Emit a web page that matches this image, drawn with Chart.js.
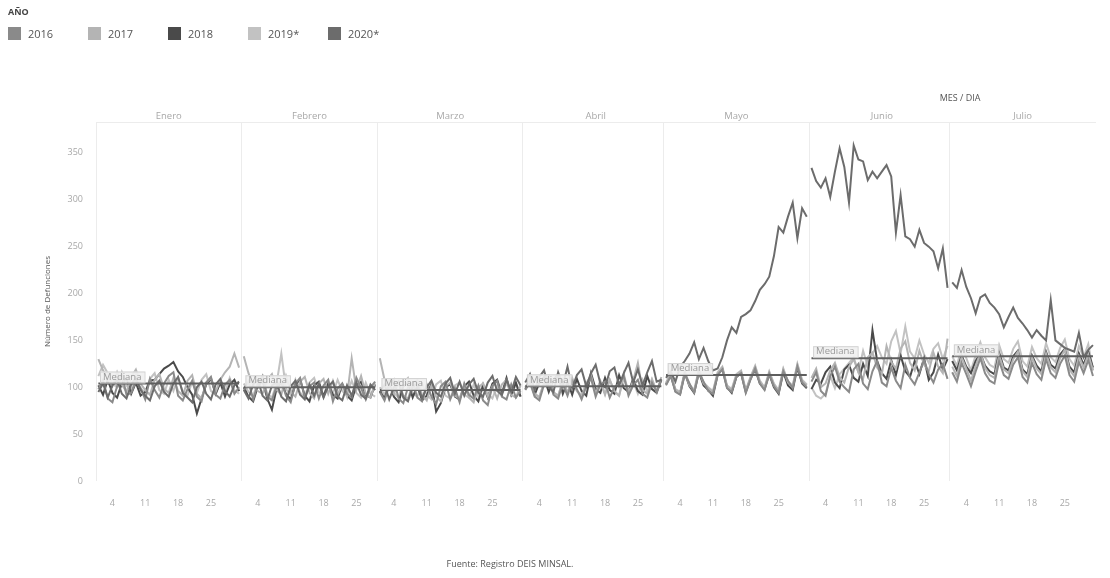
<!DOCTYPE html>
<html>
<head>
<meta charset="utf-8">
<script src="https://cdn.jsdelivr.net/npm/chart.js@4.4.1/dist/chart.umd.min.js"></script>
<style>
html,body{margin:0;padding:0;background:#fff;}
#wrap{position:relative;width:1110px;height:578px;overflow:hidden;font-family:'Open Sans',sans-serif;}
#chart{position:absolute;left:0;top:0;}
#legend{position:absolute;left:8px;top:6px;}
#legend .ttl{font-size:9px;font-weight:bold;color:#444;line-height:12px;height:20px;}
#legend .row{display:flex;}
#legend .item{display:flex;align-items:center;width:80px;}
#legend .box{width:13px;height:13px;margin-right:7px;}
#legend .lbl{font-size:11px;color:#555;}
.note{position:absolute;font-size:9px;color:#555;transform:translateX(-50%);white-space:nowrap;}
</style>
</head>
<body>
<div id="wrap">
<canvas id="chart" width="1110" height="578"></canvas>
<div id="legend"></div>
<div class="note" id="axisNote" style="left:960px;top:91px;">MES / DIA</div>
<div class="note" id="source" style="left:510px;top:557px;">Fuente: Registro DEIS MINSAL.</div>
</div>
<script>
// ---- data ----
const monthNames = ['Enero','Febrero','Marzo','Abril','Mayo','Junio','Julio'];
const monthDays = [31,29,31,30,31,30,31];
const tickDays = [4,11,18,25];
const years = ['2016','2017','2018','2019*','2020*'];
const colors = ['#8a8a8a','#b4b4b4','#4a4a4a','#c2c2c2','#6c6c6c'];
const medians = [104,100,97,101,113,131,133];

const d2016 = [
 98,108,88,84,101,114,92,94,106,99,87,109,97,89,104,112,116,91,86,98,107,90,85,105,111,92,88,103,108,93,100,
 96,106,87,103,112,90,86,101,107,91,84,104,110,89,101,105,88,102,108,85,99,104,93,89,110,99,87,100,106,
 95,86,102,108,88,83,100,105,89,85,103,90,82,101,106,87,99,84,104,92,88,102,86,81,101,107,90,87,103,89,96,
 97,105,90,86,103,109,92,88,104,91,107,98,87,101,110,90,103,106,89,100,104,112,91,102,108,93,89,105,95,109,
 102,112,95,92,114,104,94,116,106,96,93,113,119,99,95,111,115,94,108,120,104,97,114,101,94,117,107,99,122,105,100,
 106,116,96,91,112,122,106,100,95,119,125,104,98,117,128,105,101,121,107,99,124,110,103,116,129,114,105,119,125,109,
 116,106,126,114,101,117,131,115,107,104,128,113,109,124,132,111,105,126,114,108,130,115,110,125,134,113,106,127,115,129,112
];
const d2017 = [
 130,118,110,101,116,103,95,111,119,104,97,92,108,114,98,94,110,96,91,107,113,93,88,105,110,95,108,116,122,136,121,
 133,115,102,96,93,108,114,97,92,112,95,90,106,111,94,88,104,109,93,107,92,103,90,131,97,112,93,89,104,
 131,108,100,93,105,91,88,103,108,92,86,102,90,85,101,105,91,88,103,89,84,100,104,90,101,88,103,108,92,89,102,
 100,108,93,89,105,112,95,91,107,94,110,96,90,103,113,93,106,92,108,96,91,114,94,107,126,97,93,108,95,111,
 104,114,97,94,116,102,96,118,104,99,95,115,121,101,97,113,117,96,110,122,106,99,116,103,96,119,105,101,124,107,102,
 110,120,100,104,118,126,111,105,122,130,116,109,132,137,121,114,144,127,120,141,149,126,118,139,124,117,137,122,115,152,
 122,112,132,120,107,123,137,121,113,110,134,119,115,130,138,117,111,132,120,114,136,121,116,131,140,119,112,133,121,135,118
];
const d2018 = [
 102,92,108,94,89,104,110,93,105,91,95,107,108,114,120,123,127,117,111,100,92,72,88,103,109,93,105,90,103,108,96,
 100,90,85,101,107,88,76,99,105,93,87,103,108,91,85,102,106,90,104,92,88,103,91,86,102,106,92,89,103,
 96,88,103,90,84,101,105,89,102,86,91,104,74,83,100,103,90,87,101,106,91,85,102,89,104,108,93,110,92,105,90,
 98,107,92,105,111,95,108,114,93,106,92,109,96,91,115,98,94,110,97,93,113,99,95,109,96,92,112,98,94,108,
 103,113,96,93,115,101,94,116,102,97,91,113,120,100,94,111,115,95,109,119,104,98,114,100,93,116,102,97,121,104,99,
 98,108,104,116,122,105,99,119,124,110,106,125,112,161,128,115,109,129,113,134,117,111,128,114,131,108,116,135,119,130,
 128,118,134,122,115,128,136,123,117,114,137,121,118,133,139,119,114,134,123,117,138,124,120,135,141,122,116,136,124,138,121
];
const d2019 = [
 112,124,115,104,100,116,102,96,113,99,94,109,115,97,93,108,96,111,95,91,106,94,108,114,96,92,107,95,110,97,93,
 104,95,91,105,111,93,89,104,136,98,92,108,94,90,105,110,95,91,106,93,108,96,92,107,94,89,105,93,90,
 100,92,107,94,89,105,110,93,90,104,92,87,103,107,91,88,102,105,92,89,103,90,104,93,88,102,91,105,92,103,90,
 99,107,93,90,105,110,94,91,106,93,108,96,92,105,111,94,107,93,108,95,91,110,96,106,93,108,95,109,96,107,
 105,115,98,95,117,103,97,119,105,100,96,116,122,102,98,114,118,97,111,123,107,100,117,104,97,120,106,102,125,108,103,
 100,91,88,93,112,99,114,120,126,132,116,139,122,136,144,132,125,149,160,136,165,138,131,150,135,126,141,147,130,144,
 133,123,143,131,118,134,148,132,124,121,145,130,126,141,149,128,122,143,131,125,147,132,127,142,151,130,123,144,132,146,118
];
const d2020 = [
 95,104,89,102,108,93,88,103,110,97,91,86,101,107,95,90,104,111,94,89,84,100,106,93,87,103,109,96,90,102,106,
 97,88,103,108,91,86,102,105,90,85,101,107,92,87,103,91,104,89,101,106,90,86,102,91,105,92,88,103,97,
 94,103,87,100,106,89,85,101,104,88,100,107,94,90,104,110,93,106,91,103,109,94,90,105,112,96,92,108,95,111,102,
 105,114,97,111,118,100,95,116,102,122,99,113,119,101,115,124,104,100,117,121,102,115,126,105,119,102,116,128,106,108,
 110,117,106,122,128,136,148,130,142,128,118,120,132,150,164,158,175,178,182,192,204,210,218,240,271,265,282,297,259,291,282,
 334,320,313,323,303,330,355,335,297,358,343,341,321,330,323,330,337,325,265,305,261,258,250,268,254,250,245,227,248,206,
 212,206,225,207,195,179,196,199,190,185,178,164,175,185,174,168,161,153,161,155,150,193,150,146,142,140,138,158,132,140,145
];
const series = [d2016, d2017, d2018, d2019, d2020];

// ---- derived helpers ----
const dayLabels = [], monthOf = [], monthStart = [];
monthDays.forEach((n, m) => {
  monthStart.push(dayLabels.length);
  for (let d = 1; d <= n; d++) { dayLabels.push(String(d)); monthOf.push(m); }
});
const monthStartSet = new Set(monthStart);

// HTML legend
const legendEl = document.getElementById('legend');
legendEl.innerHTML = '<div class="ttl">AÑO</div><div class="row">' +
  years.map((y, i) => `<div class="item"><span class="box" style="background:${colors[i]}"></span><span class="lbl">${y}</span></div>`).join('') +
  '</div>';

Chart.defaults.font.family = "'Open Sans', sans-serif";

const breakSeg = {
  borderColor: c => monthOf[c.p0DataIndex] !== monthOf[c.p1DataIndex] ? 'rgba(0,0,0,0)' : undefined
};

const datasets = series.map((s, i) => ({
  label: years[i],
  data: s,
  borderColor: colors[i],
  backgroundColor: colors[i],
  borderWidth: 2,
  pointRadius: 0,
  tension: 0,
  segment: breakSeg,
  order: i === 4 ? 0 : 1
}));
datasets.push({
  label: 'Mediana',
  data: monthOf.map(m => medians[m]),
  borderColor: '#5e5e5e',
  borderWidth: 2,
  pointRadius: 0,
  segment: breakSeg,
  order: -1
});

const medianLabels = {
  id: 'medianLabels',
  afterDatasetsDraw(chart) {
    const { ctx, scales: { x, y } } = chart;
    const step = x.getPixelForValue(1) - x.getPixelForValue(0);
    ctx.save();
    ctx.font = "9.5px 'Open Sans', sans-serif";
    ctx.textBaseline = 'middle';
    medians.forEach((v, m) => {
      const left = x.getPixelForValue(monthStart[m]) - step / 2 + 4;
      const yy = y.getPixelForValue(v);
      const w = ctx.measureText('Mediana').width + 6, h = 11;
      ctx.fillStyle = 'rgba(240,240,240,0.92)';
      ctx.fillRect(left, yy - h - 1, w, h);
      ctx.strokeStyle = '#d2d2d2';
      ctx.lineWidth = 1;
      ctx.strokeRect(left + 0.5, yy - h - 0.5, w, h);
      ctx.fillStyle = '#9a9a9a';
      ctx.fillText('Mediana', left + 3, yy - h / 2 - 1);
    });
    ctx.restore();
  }
};

new Chart(document.getElementById('chart'), {
  type: 'line',
  data: { labels: dayLabels, datasets },
  options: {
    responsive: false,
    animation: false,
    layout: { padding: { left: 0, right: 10, top: 0, bottom: 0 } },
    plugins: { legend: { display: false }, tooltip: { enabled: false } },
    scales: {
      x: {
        type: 'category',
        offset: true,
        grid: {
          offset: true,
          drawTicks: false,
          color: c => monthStartSet.has(c.index) ? '#ececec' : 'rgba(0,0,0,0)'
        },
        border: { display: false },
        ticks: {
          autoSkip: false, maxRotation: 0, padding: 17, color: '#a8a8a8', font: { size: 9 },
          callback: (v, i) => tickDays.includes(+dayLabels[i]) ? dayLabels[i] : ''
        },
        afterFit: s => { s.height = 97; }
      },
      x2: {
        type: 'category',
        position: 'top',
        offset: true,
        labels: dayLabels,
        grid: { display: false, drawTicks: false },
        border: { display: true, color: '#ececec' },
        ticks: {
          autoSkip: false, maxRotation: 0, padding: 0, color: '#a8a8a8', font: { size: 9.5 },
          callback: (v, i) => {
            const m = monthOf[i];
            return i === monthStart[m] + Math.floor(monthDays[m] / 2) ? monthNames[m] : '';
          }
        },
        afterFit: s => { s.height = 122; }
      },
      y: {
        min: 0, max: 383,
        ticks: { stepSize: 50, padding: 13, color: '#a8a8a8', font: { size: 9 } },
        afterBuildTicks: s => { s.ticks = s.ticks.filter(t => t.value % 50 === 0); },
        grid: { display: false, drawTicks: false },
        border: { display: false },
        title: { display: true, text: 'Número de Defunciones', color: '#555', font: { size: 8 }, padding: { top: 43, bottom: 0 } },
        afterFit: s => { s.width = 96; }
      }
    }
  },
  plugins: [medianLabels]
});
</script>
</body>
</html>
